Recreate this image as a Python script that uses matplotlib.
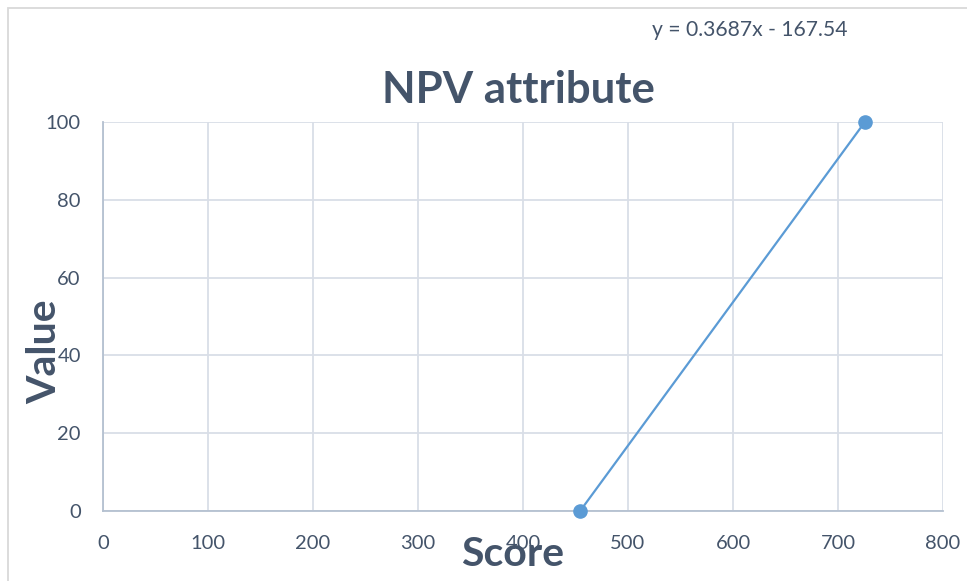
import matplotlib.pyplot as plt
from matplotlib.patches import Rectangle

# score -> value points and the fitted trend line label
score = [454.4, 725.6]
value = [0, 100]
trend_label = "y = 0.3687x - 167.54"
x_ticks = [0, 100, 200, 300, 400, 500, 600, 700, 800]
y_ticks = [0, 20, 40, 60, 80, 100]

text_col = "#44546a"
grid_col = "#d9dee7"
axis_col = "#b4c0d0"
line_col = "#5b9bd5"

plt.rcParams["font.family"] = ["Lato", "DejaVu Sans"]

fig = plt.figure(figsize=(9.67, 5.81), dpi=100)
ax = fig.add_axes([103 / 967, 1 - 511 / 581, 840 / 967, 389 / 581])

ax.plot(score, value, color=line_col, lw=1.6, marker="o", ms=9.5,
        markerfacecolor=line_col, markeredgecolor=line_col, clip_on=False, zorder=3)

ax.set_xlim(0, 800)
ax.set_ylim(0, 100)
ax.set_xticks(x_ticks)
ax.set_yticks(y_ticks)
ax.grid(True, color=grid_col, lw=1.3)
ax.set_axisbelow(True)

for side in ["top", "right"]:
    ax.spines[side].set_visible(False)
for side in ["left", "bottom"]:
    ax.spines[side].set_color(axis_col)
    ax.spines[side].set_linewidth(1.3)

ax.tick_params(axis="both", length=0, labelsize=14.5, labelcolor=text_col)
ax.tick_params(axis="y", pad=16)
ax.tick_params(axis="x", pad=17)

ax.set_xlabel("Score", fontsize=29.5, fontweight="bold", color=text_col)
ax.set_ylabel("Value", fontsize=29.5, fontweight="bold", color=text_col)
ax.xaxis.set_label_coords(0.487, -0.113)
ax.yaxis.set_label_coords(-0.069, 0.409)
ax.xaxis.label.set_va("center")
ax.yaxis.label.set_va("center")

fig.text(518 / 967, 1 - 90 / 581, "NPV attribute", fontsize=31.5, fontweight="bold",
         color=text_col, ha="center", va="center")
fig.text(750 / 967, 1 - 30 / 581, trend_label, fontsize=15.2, color=text_col,
         ha="center", va="center")

# chart frame, running off the right and bottom edges
fig.add_artist(Rectangle((8 / 967, -0.1), 1.2, 1.1 - 8 / 581, transform=fig.transFigure,
                         fill=False, edgecolor="#d9d9d9", lw=1.3))

fig.savefig("out.png", dpi=100)
